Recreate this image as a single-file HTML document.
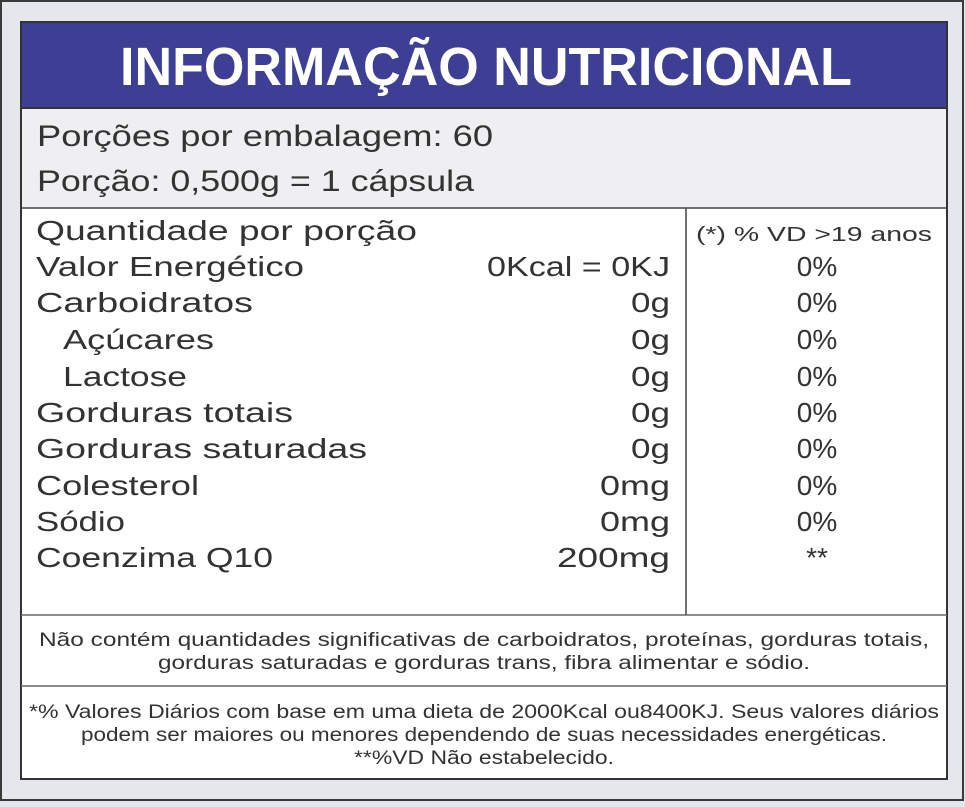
<!DOCTYPE html>
<html><head><meta charset="utf-8"><style>html,body{margin:0;padding:0;background:#e6e7ec}</style></head>
<body>
<svg width="965" height="802" viewBox="0 0 965 802" xmlns="http://www.w3.org/2000/svg" font-family="Liberation Sans, sans-serif">
<rect x="1" y="1" width="962" height="799" fill="#e6e7ec" stroke="#3a3a3a" stroke-width="2"/>
<rect x="21" y="22" width="926" height="757" fill="#fff" stroke="#333" stroke-width="2"/>
<rect x="22" y="23" width="924" height="85" fill="#3c3f94"/>
<line x1="21" y1="108" x2="947" y2="108" stroke="#333" stroke-width="2"/>
<rect x="22" y="109" width="924" height="99" fill="#efeff2"/>
<line x1="21" y1="208" x2="947" y2="208" stroke="#444" stroke-width="1.5"/>
<line x1="686" y1="208" x2="686" y2="615" stroke="#444" stroke-width="1.5"/>
<line x1="21" y1="615" x2="947" y2="615" stroke="#666" stroke-width="1.5"/>
<line x1="21" y1="686" x2="947" y2="686" stroke="#666" stroke-width="1.5"/>
<text x="120" y="85" font-size="54" font-weight="bold" fill="#fff" textLength="732" lengthAdjust="spacingAndGlyphs">INFORMAÇÃO NUTRICIONAL</text>
<g fill="#333" font-size="30">
<text x="37" y="146" textLength="456" lengthAdjust="spacingAndGlyphs">Porções por embalagem: 60</text>
<text x="37" y="191" textLength="437" lengthAdjust="spacingAndGlyphs">Porção: 0,500g = 1 cápsula</text>
</g>
<g fill="#333" font-size="28">
<text x="36" y="240" textLength="381" lengthAdjust="spacingAndGlyphs">Quantidade por porção</text>
<text x="36" y="276" textLength="268" lengthAdjust="spacingAndGlyphs">Valor Energético</text>
<text x="36" y="312" textLength="217" lengthAdjust="spacingAndGlyphs">Carboidratos</text>
<text x="63" y="349" textLength="151" lengthAdjust="spacingAndGlyphs">Açúcares</text>
<text x="63" y="386" textLength="124" lengthAdjust="spacingAndGlyphs">Lactose</text>
<text x="36" y="422" textLength="257" lengthAdjust="spacingAndGlyphs">Gorduras totais</text>
<text x="36" y="458" textLength="331" lengthAdjust="spacingAndGlyphs">Gorduras saturadas</text>
<text x="36" y="495" textLength="163" lengthAdjust="spacingAndGlyphs">Colesterol</text>
<text x="36" y="531" textLength="89" lengthAdjust="spacingAndGlyphs">Sódio</text>
<text x="36" y="567" textLength="237" lengthAdjust="spacingAndGlyphs">Coenzima Q10</text>
</g>
<g fill="#333" font-size="28">
<text x="487" y="276" textLength="183" lengthAdjust="spacingAndGlyphs">0Kcal = 0KJ</text>
<text x="631" y="312" textLength="39" lengthAdjust="spacingAndGlyphs">0g</text>
<text x="631" y="349" textLength="39" lengthAdjust="spacingAndGlyphs">0g</text>
<text x="631" y="386" textLength="39" lengthAdjust="spacingAndGlyphs">0g</text>
<text x="631" y="422" textLength="39" lengthAdjust="spacingAndGlyphs">0g</text>
<text x="631" y="458" textLength="39" lengthAdjust="spacingAndGlyphs">0g</text>
<text x="600" y="495" textLength="70" lengthAdjust="spacingAndGlyphs">0mg</text>
<text x="600" y="531" textLength="70" lengthAdjust="spacingAndGlyphs">0mg</text>
<text x="557" y="567" textLength="113" lengthAdjust="spacingAndGlyphs">200mg</text>
</g>
<text x="696" y="241" font-size="20" fill="#333" textLength="236" lengthAdjust="spacingAndGlyphs">(*) % VD  &gt;19 anos</text>
<g fill="#333" font-size="28" text-anchor="middle">
<text x="817" y="276">0%</text>
<text x="817" y="312">0%</text>
<text x="817" y="349">0%</text>
<text x="817" y="386">0%</text>
<text x="817" y="422">0%</text>
<text x="817" y="458">0%</text>
<text x="817" y="495">0%</text>
<text x="817" y="531">0%</text>
<text x="817" y="567">**</text>
</g>
<g fill="#333" font-size="19" text-anchor="middle">
<text x="484" y="646" textLength="890" lengthAdjust="spacingAndGlyphs">Não contém quantidades significativas de carboidratos, proteínas, gorduras totais,</text>
<text x="484" y="669" textLength="652" lengthAdjust="spacingAndGlyphs">gorduras saturadas e gorduras trans, fibra alimentar e sódio.</text>
<text x="484" y="718" textLength="910" lengthAdjust="spacingAndGlyphs">*% Valores Diários com base em uma dieta de 2000Kcal ou8400KJ. Seus valores diários</text>
<text x="484" y="741" textLength="806" lengthAdjust="spacingAndGlyphs">podem ser maiores ou menores dependendo de suas necessidades energéticas.</text>
<text x="484" y="764" textLength="260" lengthAdjust="spacingAndGlyphs">**%VD Não estabelecido.</text>
</g>
</svg>
</body></html>
